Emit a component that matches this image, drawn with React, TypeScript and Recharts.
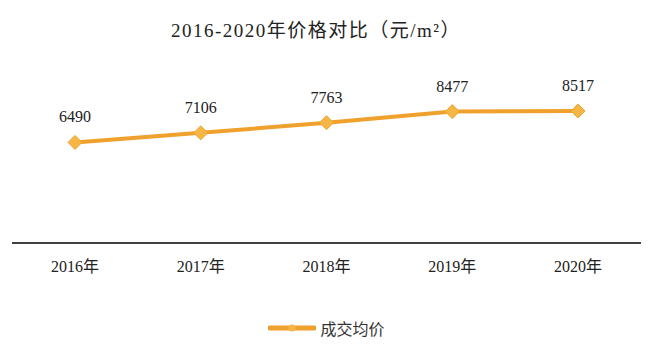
import React from "react";
import { LineChart, Line, XAxis, YAxis, LabelList, Legend } from "recharts";

const years = ["2016年", "2017年", "2018年", "2019年", "2020年"];
const avgPrice = [6490, 7106, 7763, 8477, 8517];

const data = years.map((year, i) => ({ year, price: avgPrice[i] }));

const FONT = '"Liberation Serif", "Noto Sans CJK SC", serif';
const ORANGE = "#F0A02C";

function Diamond(props: any) {
  const { cx, cy } = props;
  if (cx == null || cy == null) return null;
  const r = 7;
  return (
    <path
      d={`M${cx},${cy - r}L${cx + r},${cy}L${cx},${cy + r}L${cx - r},${cy}Z`}
      fill="#F6B645"
      stroke="#EFA52E"
      strokeWidth={1}
    />
  );
}

function LegendBox() {
  return (
    <div style={{ display: "flex", justifyContent: "center", alignItems: "center", fontFamily: FONT }}>
      <svg width={48} height={10} style={{ marginRight: 4 }}>
        <line x1={2} y1={5} x2={46} y2={5} stroke={ORANGE} strokeWidth={5} strokeLinecap="round" />
        <circle cx={24} cy={5} r={3.5} fill="#F6B645" />
      </svg>
      <span style={{ fontSize: 16, color: "#333" }}>成交均价</span>
    </div>
  );
}

export default function App() {
  return (
    <div style={{ width: 653, height: 348, position: "relative", background: "#fff" }}>
      <style>{`body{margin:0}`}</style>
      <div
        style={{
          position: "absolute",
          top: 15,
          left: 0,
          width: 632,
          textAlign: "center",
          fontFamily: FONT,
          fontSize: 19,
          letterSpacing: 1.5,
          color: "#222",
        }}
      >
        2016-2020年价格对比（元/m²）
      </div>
      <LineChart
        width={653}
        height={348}
        data={data}
        margin={{ top: 88, right: 12, bottom: 51, left: 12 }}
      >
        <XAxis
          dataKey="year"
          padding={{ left: 63, right: 63 }}
          tickLine={false}
          axisLine={{ stroke: "#000", strokeWidth: 1.5 }}
          tick={{ fontFamily: FONT, fontSize: 16, fill: "#222" }}
          tickMargin={12}
          interval={0}
        />
        <YAxis hide domain={[0, 10000]} />
        <Line
          dataKey="price"
          stroke={ORANGE}
          strokeWidth={4}
          dot={<Diamond />}
          activeDot={false}
          isAnimationActive={false}
        >
          <LabelList
            dataKey="price"
            position="top"
            offset={20}
            style={{ fontFamily: FONT, fontSize: 16, fill: "#222" }}
          />
        </Line>
        <Legend
          verticalAlign="bottom"
          content={() => <LegendBox />}
          wrapperStyle={{ bottom: 8 }}
        />
      </LineChart>
    </div>
  );
}
